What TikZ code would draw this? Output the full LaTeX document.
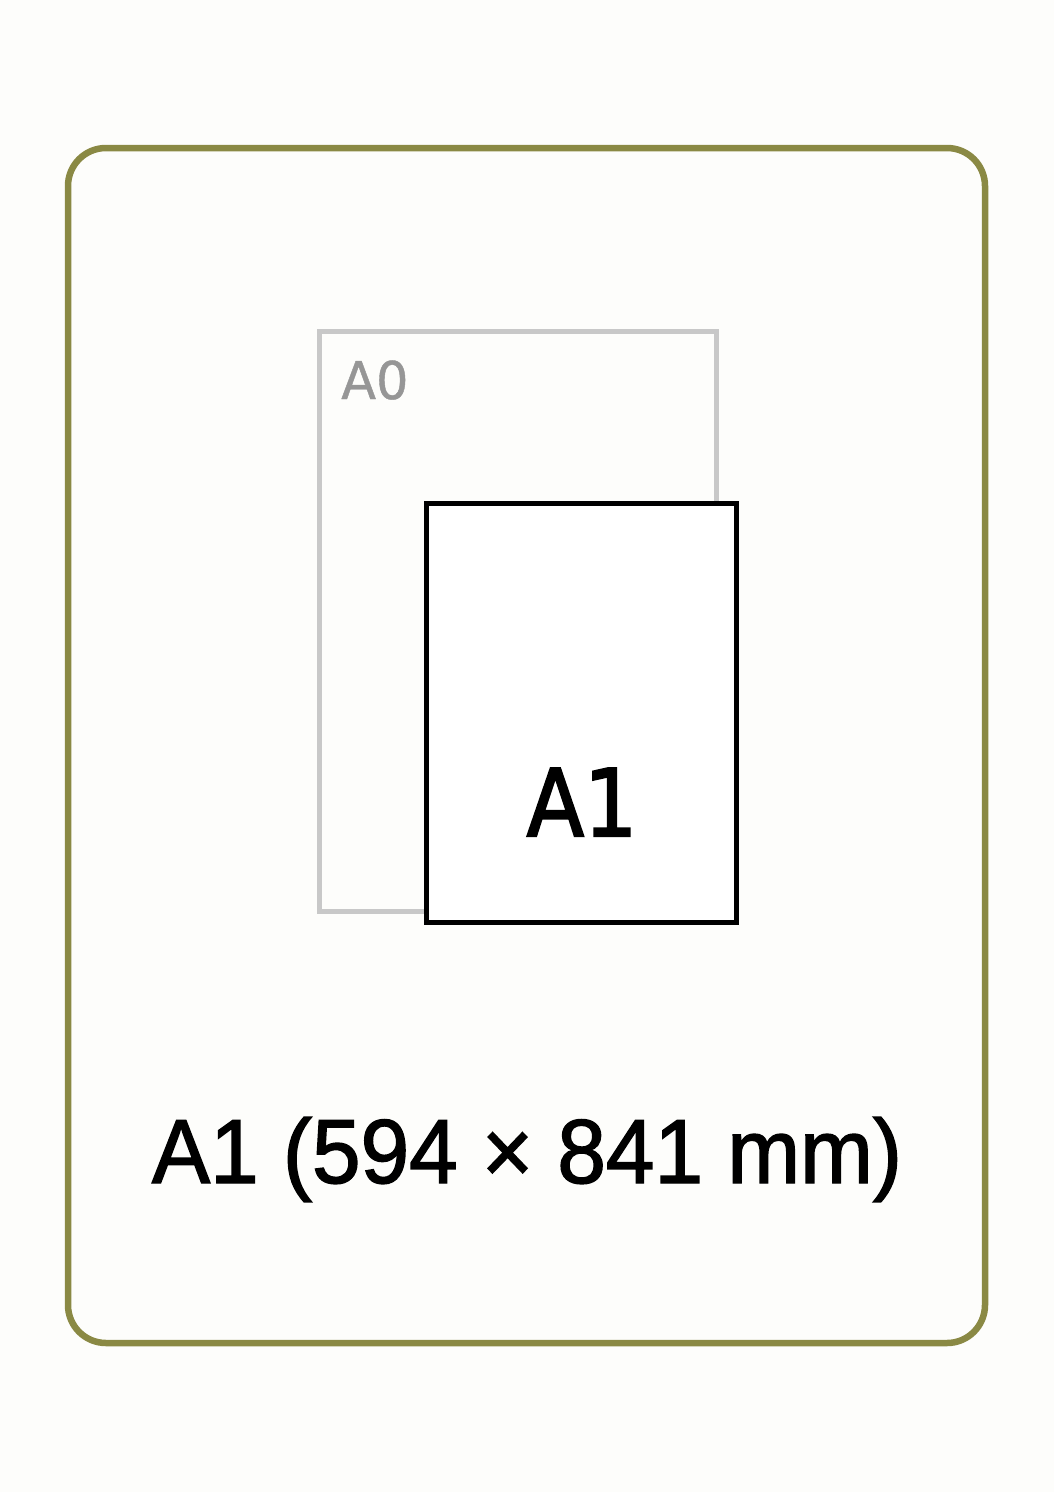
\documentclass[tikz,border=0pt]{standalone}
\usepackage{fontspec}
\setmainfont{Liberation Sans}
\newfontfamily\capfont[FakeBold=1.6,FakeStretch=0.96]{Liberation Sans}
\newfontfamily\djv[FakeBold=0.8,FakeStretch=0.98]{DejaVu Sans}
\newfontfamily\djvb[FakeBold=2.2,FakeStretch=0.9]{DejaVu Sans}
\definecolor{frameolive}{RGB}{138,137,68}
\definecolor{aogray}{RGB}{200,200,200}
\definecolor{aotext}{RGB}{150,150,150}
\definecolor{bgwhite}{RGB}{253,253,251}
\begin{document}
\begin{tikzpicture}[x=1pt,y=-1pt,
  framebox/.style={draw=frameolive,line width=6.5pt,rounded corners=38pt},
  sheetA0/.style={draw=aogray,line width=5pt},
  sheetA1/.style={draw=black,fill=white,line width=5pt}]
\fill[bgwhite] (0,0) rectangle (1054,1492);
\useasboundingbox (0,0) rectangle (1054,1492);
\draw[framebox] (68,148) rectangle (985,1343);
\draw[sheetA0] (319,331) rectangle (716,911);
\node[anchor=base west,text=aotext,inner sep=0pt,font=\djv\fontsize{52}{60}\selectfont] (a0) at (341,399) {A0};
\draw[sheetA1] (426,503) rectangle (736,922);
\node[anchor=base,inner sep=0pt,font=\djvb\fontsize{93}{100}\selectfont] (a1) at (582,836) {A1};
\node[anchor=base,inner sep=0pt,font=\capfont\fontsize{91}{100}\selectfont] (cap) at (527,1183) {A1 (594 × 841 mm)};
\end{tikzpicture}
\end{document}
